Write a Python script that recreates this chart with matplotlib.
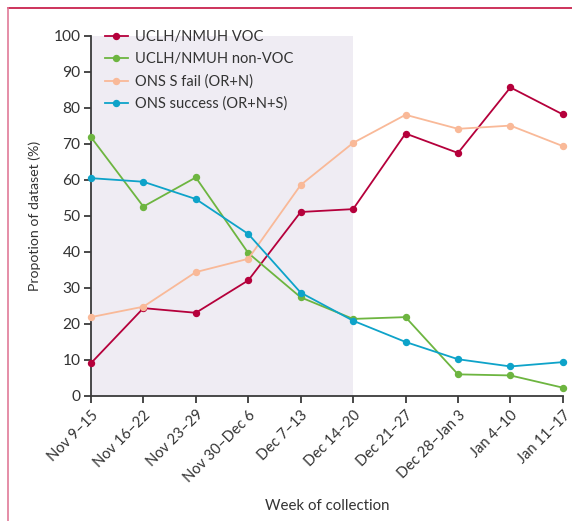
import numpy as np
import matplotlib
matplotlib.use("Agg")
from matplotlib import pyplot as plt
from matplotlib.lines import Line2D

plt.rcParams['font.family'] = ['Lato', 'DejaVu Sans']

weeks = ['Nov 9–15', 'Nov 16–22', 'Nov 23–29', 'Nov 30–Dec 6', 'Dec 7–13',
         'Dec 14–20', 'Dec 21–27', 'Dec 28–Jan 3', 'Jan 4–10', 'Jan 11–17']
voc = [9.1, 24.4, 23.1, 32.1, 51.1, 51.9, 72.9, 67.5, 85.7, 78.2]
non_voc = [71.9, 52.6, 60.7, 39.7, 27.4, 21.4, 21.9, 6.0, 5.7, 2.3]
ons_fail = [21.9, 24.8, 34.4, 38.1, 58.6, 70.3, 78.1, 74.2, 75.1, 69.4]
ons_success = [60.5, 59.5, 54.7, 45.0, 28.7, 20.9, 15.0, 10.2, 8.2, 9.4]

fig = plt.figure(figsize=(5.72, 5.21), dpi=100)
ax = fig.add_axes([0.159, 0.240, 0.825, 0.691])

x = np.arange(len(weeks))
ax.axvspan(0, 5, color='#efecf3', zorder=0, lw=0)

series = [
    (voc, '#b5003b', 'UCLH/NMUH VOC'),
    (non_voc, '#6db540', 'UCLH/NMUH non-VOC'),
    (ons_fail, '#f9b998', 'ONS S fail (OR+N)'),
    (ons_success, '#0ea3c9', 'ONS success (OR+N+S)'),
]
for vals, col, lab in series:
    ax.plot(x, vals, color=col, lw=1.3, marker='o', markersize=4.3,
            label=lab, clip_on=False, zorder=3)

ax.set_xlim(0, 9)
ax.set_ylim(0, 100)
ax.set_yticks(range(0, 101, 10))
ax.set_xticks(x)
ax.set_xticklabels(weeks, rotation=45, ha='right', rotation_mode='anchor')

for s in ['top', 'right']:
    ax.spines[s].set_visible(False)
for s in ['left', 'bottom']:
    ax.spines[s].set_color('#3a3a3a')
    ax.spines[s].set_linewidth(1.3)
ax.tick_params(colors='#3a3a3a', labelcolor='#333333', labelsize=10.5,
               length=5, width=1.3, direction='out')
ax.tick_params(axis='y', labelsize=11.2, pad=2.5)

ax.set_ylabel('Propotion of dataset (%)', fontsize=10.2, color='#333333', labelpad=9)
ax.set_xlabel('Week of collection', fontsize=10.8, color='#333333', labelpad=10)

leg = ax.legend(loc='upper left', bbox_to_anchor=(0.008, 1.044), frameon=False,
                fontsize=10.5, handlelength=1.58, handletextpad=0.45,
                labelspacing=0.55, borderaxespad=0.3)
for t in leg.get_texts():
    t.set_color('#333333')

# journal frame lines
fig.add_artist(Line2D([8 / 572, 1], [1 - 8 / 521, 1 - 8 / 521],
                      transform=fig.transFigure, color='#c5103f', lw=1.2))
fig.add_artist(Line2D([8 / 572, 8 / 572], [0, 1 - 8 / 521],
                      transform=fig.transFigure, color='#e07a98', lw=1.2))

fig.savefig('out.png', dpi=100)
